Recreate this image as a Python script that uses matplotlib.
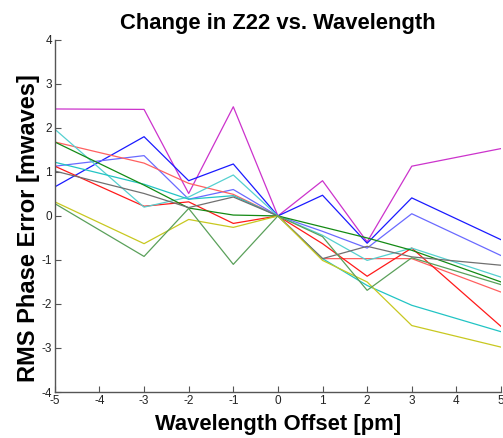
import matplotlib
matplotlib.use("Agg")
import matplotlib.pyplot as plt

plt.rcParams['font.family'] = ['Liberation Sans', 'DejaVu Sans']
plt.rcParams['axes.unicode_minus'] = False

# wavelength offsets [pm]
offsets = [-5, -3, -2, -1, 0, 1, 2, 3, 5]

# RMS phase error [mwaves], one run per list
magenta = [2.43, 2.42, 0.51, 2.48, 0, 0.80, -0.59, 1.13, 1.53]
blue = [0.66, 1.80, 0.80, 1.18, 0, 0.47, -0.62, 0.41, -0.54]
blue_lt = [1.13, 1.37, 0.38, 0.60, 0, -0.35, -0.73, 0.05, -0.90]
red_lt = [1.68, 1.20, 0.74, 0.49, 0, -0.97, -0.97, -0.97, -1.73]
red = [1.13, 0.22, 0.32, -0.17, 0, -0.63, -1.37, -0.73, -2.51]
cyan_lt = [1.97, 0.20, 0.43, 0.93, 0, -0.44, -1.01, -0.73, -1.39]
cyan = [1.22, 0.72, 0.38, 0.46, 0, -0.97, -1.58, -2.03, -2.63]
green = [1.68, 0.70, 0.18, 0.02, 0, -0.25, -0.50, -0.78, -1.50]
gray = [1.02, 0.51, 0.19, 0.43, 0, -0.97, -0.69, -0.93, -1.12]
yellow = [0.32, -0.63, -0.08, -0.26, 0, -1.01, -1.50, -2.49, -2.98]
green_lt = [0.28, -0.92, 0.17, -1.10, 0, -0.47, -1.69, -0.95, -1.56]

runs = [
    (magenta, '#cc33cc'),
    (blue, '#1a1aff'),
    (blue_lt, '#6a6aff'),
    (red_lt, '#ff6060'),
    (red, '#ff1a1a'),
    (cyan_lt, '#55d0d0'),
    (cyan, '#22c4c4'),
    (green, '#148a14'),
    (gray, '#707070'),
    (yellow, '#c8c820'),
    (green_lt, '#5aa05a'),
]

fig = plt.figure(figsize=(5.03, 4.38), dpi=100)
ax = fig.add_axes([0.109, 0.105, 0.887, 0.804])

for vals, col in runs:
    ax.plot(offsets, vals, color=col, lw=0.9)

ax.set_xlim(-5, 5)
ax.set_ylim(-4, 4)
ax.set_xticks(range(-5, 6))
ax.set_yticks(range(-4, 5))

for side in ['top', 'right']:
    ax.spines[side].set_visible(False)
for side in ['left', 'bottom']:
    ax.spines[side].set_color('#555555')
    ax.spines[side].set_linewidth(1.0)
ax.tick_params(direction='in', length=4, width=0.8, color='#555555',
               labelsize=8.5, labelcolor='#222222', pad=2)

ax.set_title('Change in Z22 vs. Wavelength', fontsize=15.8, fontweight='bold', pad=8)
ax.set_xlabel('Wavelength Offset [pm]', fontsize=15.8, fontweight='bold', labelpad=5)
ax.set_ylabel('RMS Phase Error [mwaves]', fontsize=17, fontweight='bold')
ax.yaxis.set_label_coords(-0.034, 0.466)

fig.savefig('out.png', dpi=100)
